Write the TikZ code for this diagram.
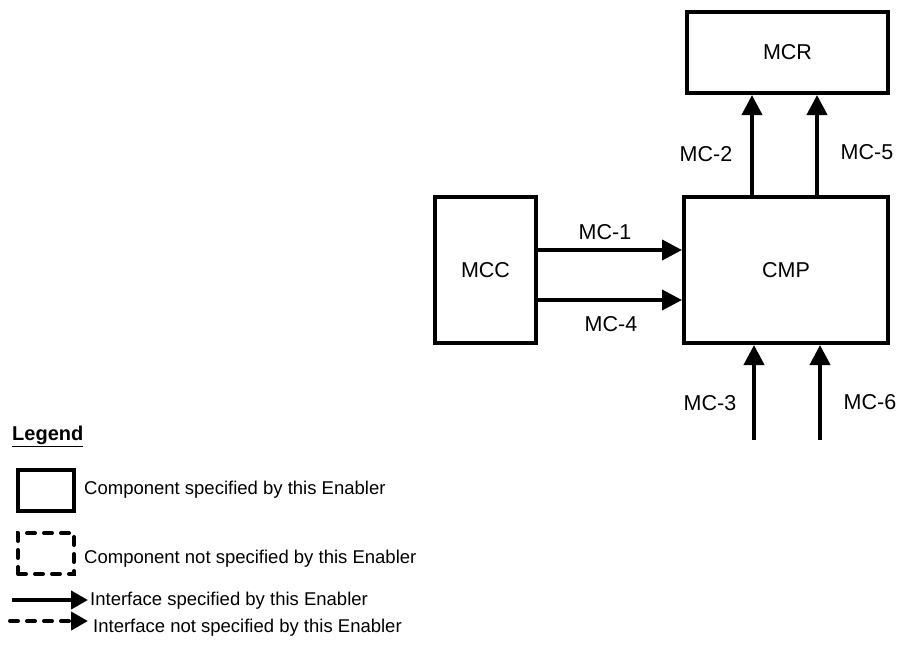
\documentclass[tikz,border=0pt]{standalone}
\usepackage{fontspec}
\setmainfont{Liberation Sans}
\usetikzlibrary{arrows.meta}
\begin{document}
\begin{tikzpicture}[x=1pt,y=-1pt,
  comp/.style={draw,line width=4pt,inner sep=0pt,font=\fontsize{21.5}{24}\selectfont},
  arr/.style={line width=4pt,-{Triangle[length=20pt,width=20pt]}},
  lbl/.style={inner sep=0pt,font=\fontsize{21.5}{24}\selectfont},
  legtxt/.style={inner sep=0pt,anchor=west,font=\fontsize{18.5}{22}\selectfont},
  dashline/.style={dash pattern=on 8pt off 9pt,line cap=round}]
\useasboundingbox (0,0) rectangle (901,649);
% components
\node[comp,minimum width=201pt,minimum height=81pt] (MCR) at (787.5,52.5) {MCR};
\node[comp,minimum width=204pt,minimum height=146pt] (CMP) at (786,270) {CMP};
\node[comp,minimum width=101pt,minimum height=146pt] (MCC) at (485.5,270) {MCC};
% interfaces
\draw[arr] ([yshift=20pt]MCC.east) -- ([yshift=20pt]CMP.west);
\draw[arr] ([yshift=-30pt]MCC.east) -- ([yshift=-30pt]CMP.west);
\draw[arr] ([xshift=-34pt]CMP.north) -- ([xshift=-35.5pt]MCR.south);
\draw[arr] ([xshift=31pt]CMP.north) -- ([xshift=29.5pt]MCR.south);
\coordinate (m3) at (754,440);
\coordinate (m6) at (820,440);
\draw[arr] (m3) -- (m3 |- CMP.south);
\draw[arr] (m6) -- (m6 |- CMP.south);
% labels
\node[lbl] (l1) at (605,232) {MC-1};
\node[lbl] (l4) at (611,324) {MC-4};
\node[lbl] (l2) at (706,154) {MC-2};
\node[lbl] (l5) at (867,152) {MC-5};
\node[lbl] (l3) at (710,403) {MC-3};
\node[lbl] (l6) at (870,402) {MC-6};
% legend
\node[inner sep=0pt,anchor=west,font=\bfseries\fontsize{20}{24}\selectfont] (leg) at (12,436) {\underline{Legend}};
\node[draw,line width=4pt,inner sep=0pt,minimum width=56pt,minimum height=41pt] (lb1) at (46,490.5) {};
\node[legtxt] (t1) at (84,490) {Component specified by this Enabler};
\node[draw,line width=4pt,dashline,inner sep=0pt,minimum width=56pt,minimum height=41pt] (lb2) at (46,553.5) {};
\node[legtxt] (t2) at (84,559) {Component not specified by this Enabler};
\coordinate (a1s) at (12,600);
\coordinate (a1e) at (88,600);
\draw[line width=4pt,-{Triangle[length=17pt,width=18pt]}] (a1s) -- (a1e);
\node[legtxt] (t3) at (90,601) {Interface specified by this Enabler};
\coordinate (a2s) at (10,621);
\coordinate (a2e) at (88,621);
\draw[line width=4pt,dashline,-{Triangle[length=17pt,width=18pt]}] (a2s) -- (a2e);
\node[legtxt] (t4) at (93,628) {Interface not specified by this Enabler};
\end{tikzpicture}
\end{document}
